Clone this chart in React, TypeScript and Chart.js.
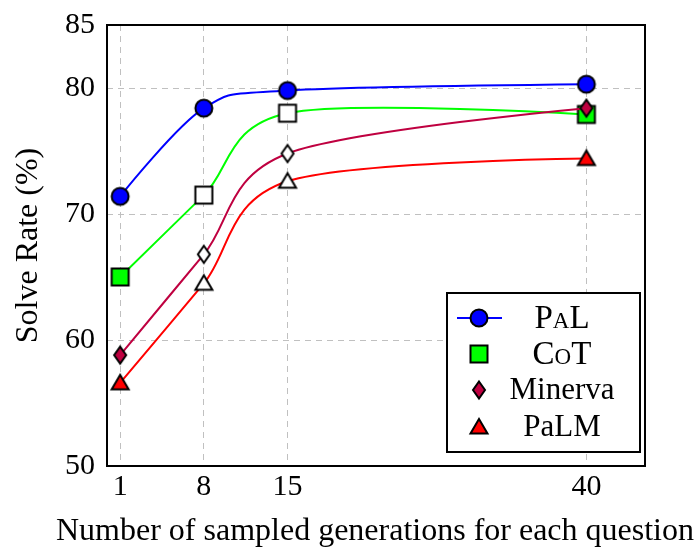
import React, { useEffect, useRef } from "react";
import { Chart, registerables } from "chart.js";

Chart.register(...registerables);

const xValues = [1, 8, 15, 40];
const palValues = [71.4, 78.4, 79.8, 80.3];
const cotValues = [65.0, 71.5, 78.0, 77.9];
const minervaValues = [58.8, 66.8, 74.8, 78.4];
const palmValues = [56.6, 64.5, 72.6, 74.4];
const yTicks = [50, 60, 70, 80, 85];
const xTicks = [1, 8, 15, 40];
const seriesNames = ["PaL", "CoT", "Minerva", "PaLM"];
const smallCaps = [true, true, false, false];
const xTitle = "Number of sampled generations for each question";
const yTitle = "Solve Rate (%)";

const FONT = '"Liberation Serif", "DejaVu Serif", serif';

type Shape = "circle" | "square" | "diamond" | "triangle";

function makeMarker(shape: Shape, fill: string): HTMLCanvasElement {
  const c = document.createElement("canvas");
  const w = 24, h = 24;
  c.width = w; c.height = h;
  const ctx = c.getContext("2d")!;
  ctx.lineWidth = 2;
  ctx.strokeStyle = "#000";
  ctx.fillStyle = fill;
  ctx.beginPath();
  const cx = w / 2, cy = h / 2;
  if (shape === "circle") {
    ctx.arc(cx, cy, 8.5, 0, Math.PI * 2);
  } else if (shape === "square") {
    ctx.rect(cx - 8.5, cy - 8.5, 17, 17);
  } else if (shape === "diamond") {
    ctx.moveTo(cx, cy - 8.5);
    ctx.lineTo(cx + 6, cy);
    ctx.lineTo(cx, cy + 8.5);
    ctx.lineTo(cx - 6, cy);
    ctx.closePath();
  } else {
    ctx.moveTo(cx, cy - 8);
    ctx.lineTo(cx + 8.5, cy + 6.5);
    ctx.lineTo(cx - 8.5, cy + 6.5);
    ctx.closePath();
  }
  ctx.fill();
  ctx.stroke();
  return c;
}

export default function App() {
  const ref = useRef<HTMLCanvasElement | null>(null);

  useEffect(() => {
    if (!ref.current) return;
    const colors = ["#0000ff", "#00ff00", "#bf0040", "#ff0000"];
    const shapes: Shape[] = ["circle", "square", "diamond", "triangle"];
    const values = [palValues, cotValues, minervaValues, palmValues];
    const fillPatterns = [
      [true, true, true, true],
      [true, false, false, true],
      [true, false, false, true],
      [true, false, false, true],
    ];
    const filled = shapes.map((s, i) => makeMarker(s, colors[i]));
    const hollow = shapes.map((s) => makeMarker(s, "#ffffff"));

    const datasets = values.map((vals, i) => ({
      label: seriesNames[i],
      data: vals.map((v, j) => ({ x: xValues[j], y: v })),
      borderColor: colors[i],
      borderWidth: 2,
      tension: 0.4,
      pointStyle: fillPatterns[i].map((f) => (f ? filled[i] : hollow[i])),
      pointRadius: 9,
      order: 4 - i,
    }));

    const smoothPlugin = {
      id: "smoothCurve",
      beforeDatasetDraw(chart: any, args: any) {
        const meta = chart.getDatasetMeta(args.index);
        const pts = meta.data;
        const f = 0.16;
        const n = pts.length;
        for (let i = 0; i < n; i++) {
          const p = pts[i];
          if (i === 0 || i === n - 1) {
            p.cp1x = p.x; p.cp1y = p.y; p.cp2x = p.x; p.cp2y = p.y;
          } else {
            const dx = pts[i + 1].x - pts[i - 1].x;
            const dy = pts[i + 1].y - pts[i - 1].y;
            p.cp1x = p.x - f * dx; p.cp1y = p.y - f * dy;
            p.cp2x = p.x + f * dx; p.cp2y = p.y + f * dy;
          }
        }
        if (meta.dataset) {
          meta.dataset._pointsUpdated = true;
          meta.dataset._path = undefined;
        }
      },
    };

    const framePlugin = {
      id: "frame",
      beforeDatasetsDraw(chart: any) {
        const { ctx, chartArea: a } = chart;
        ctx.save();
        ctx.strokeStyle = "#000";
        ctx.lineWidth = 2;
        ctx.strokeRect(a.left, a.top, a.right - a.left, a.bottom - a.top);
        // x axis title
        ctx.fillStyle = "#000";
        ctx.font = `32px ${FONT}`;
        ctx.textAlign = "center";
        ctx.textBaseline = "alphabetic";
        ctx.fillText(xTitle, 375, 540);
        // y axis title
        ctx.translate(29, (a.top + a.bottom) / 2);
        ctx.rotate(-Math.PI / 2);
        ctx.font = `32px ${FONT}`;
        ctx.textBaseline = "middle";
        ctx.fillText(yTitle, 0, 0);
        ctx.restore();
      },
    };

    const legendPlugin = {
      id: "customLegend",
      afterDraw(chart: any) {
        const { ctx } = chart;
        const x0 = 447, y0 = 293, w = 193, h = 159;
        ctx.save();
        ctx.fillStyle = "#fff";
        ctx.fillRect(x0, y0, w, h);
        ctx.strokeStyle = "#000";
        ctx.lineWidth = 2;
        ctx.strokeRect(x0, y0, w, h);
        const rowsY = [318, 354, 390, 427];
        const mx = 479;
        const tx = 562;
        for (let i = 0; i < 4; i++) {
          const y = rowsY[i];
          if (i === 0) {
            ctx.strokeStyle = colors[0];
            ctx.lineWidth = 2;
            ctx.beginPath();
            ctx.moveTo(457, y);
            ctx.lineTo(502, y);
            ctx.stroke();
          }
          ctx.drawImage(filled[i], mx - 12, y - 12);
          ctx.fillStyle = "#000";
          ctx.font = `${smallCaps[i] ? 33 : 31}px ${FONT}`;
          (ctx as any).fontVariantCaps = smallCaps[i] ? "small-caps" : "normal";
          ctx.textAlign = "center";
          ctx.textBaseline = "middle";
          ctx.fillText(seriesNames[i], tx, y + 1);
        }
        (ctx as any).fontVariantCaps = "normal";
        ctx.restore();
      },
    };

    const chart = new Chart(ref.current, {
      type: "line",
      data: { datasets: datasets as any },
      plugins: [smoothPlugin, framePlugin, legendPlugin],
      options: {
        animation: false,
        responsive: false,
        maintainAspectRatio: false,
        layout: { padding: { left: 0, top: 25, right: 54, bottom: 0 } },
        plugins: { legend: { display: false }, tooltip: { enabled: false } },
        scales: {
          x: {
            type: "linear",
            min: -0.1,
            max: 44.9,
            afterBuildTicks: (s: any) => {
              s.ticks = xTicks.map((v) => ({ value: v }));
            },
            afterFit: (s: any) => {
              s.height = 84;
              s.paddingLeft = 0;
              s.paddingRight = 0;
            },
            ticks: {
              color: "#000",
              font: { family: FONT, size: 30 },
              padding: 3,
              maxRotation: 0,
              autoSkip: false,
            },
            grid: { color: "#c0c0c0", lineWidth: 1, tickLength: 0 },
            border: { display: false, dash: [6, 5] },
          },
          y: {
            type: "linear",
            min: 50,
            max: 85,
            afterBuildTicks: (s: any) => {
              s.ticks = yTicks.map((v) => ({ value: v }));
            },
            afterFit: (s: any) => {
              s.width = 107;
              s.paddingTop = 0;
              s.paddingBottom = 0;
            },
            ticks: {
              color: "#000",
              font: { family: FONT, size: 30 },
              padding: 12,
              autoSkip: false,
            },
            grid: { color: "#c0c0c0", lineWidth: 1, tickLength: 0 },
            border: { display: false, dash: [6, 5] },
          },
        },
      },
    });
    return () => chart.destroy();
  }, []);

  return (
    <div style={{ position: "fixed", left: 0, top: 0, width: 699, height: 550, background: "#fff" }}>
      <canvas ref={ref} width={699} height={550} style={{ width: 699, height: 550, display: "block" }} />
    </div>
  );
}
